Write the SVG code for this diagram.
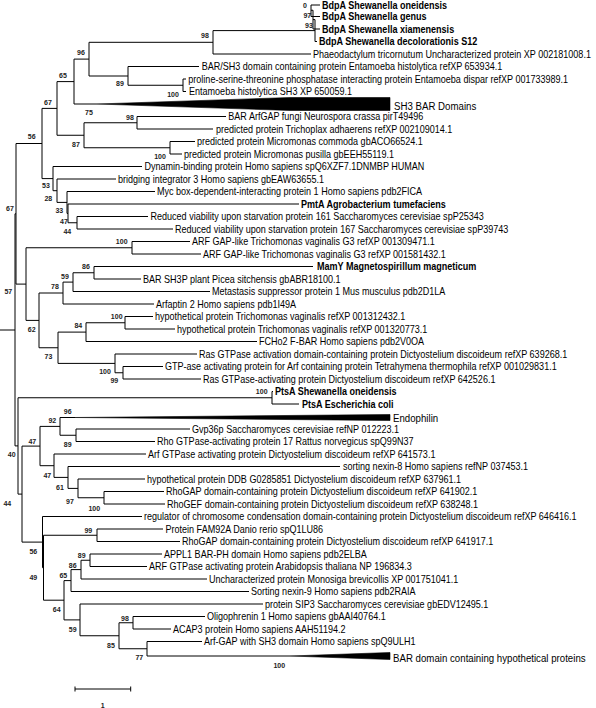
<svg xmlns="http://www.w3.org/2000/svg" width="596" height="708" viewBox="0 0 596 708">
<style>
.t{font-family:"Liberation Sans",Arial,sans-serif;font-size:10px;fill:#000}
.b{font-weight:bold}
.big{font-size:11px}
.bs{font-family:"Liberation Sans",Arial,sans-serif;font-size:7px;font-weight:bold;fill:#222;text-anchor:middle}
.br{fill:none;stroke:#000;stroke-width:1}
.tri{fill:#000;stroke:#000;stroke-width:0.6}
</style>
<rect width="596" height="708" fill="#fff"/>
<g id="connectors" class="br">
<path d="M0 330H15M15 213.8V445.9"/>
<path d="M15 213.8H16M16 143.5V284.1"/>
<path d="M16 143.5H42M42 108.4V178.6"/>
<path d="M42 108.4H57M57 81.6V135.25"/>
<path d="M57 81.6H74M74 59.1V104M74 104H97"/>
<path d="M74 59.1H89M89 42.3V76"/>
<path d="M89 42.3H213M213 30.6V54M213 54H311"/>
<path d="M213 30.6H315M315 19.6V41.5M315 41.5H317"/>
<path d="M313 19.6H315M313 10.25V29M313 29H320"/>
<path d="M311 10.25H313M311 5V16.5M311 5H320M311 16.5H320"/>
<path d="M89 76H128M128 66.5V85.25M128 66.5H199"/>
<path d="M128 85.25H183M183 79V91.5M183 79H186M183 91.5H186"/>
<path d="M57 135.25H84M84 122.75V147.75"/>
<path d="M84 122.75H137M137 116.5V129M137 116.5H226M137 129H213"/>
<path d="M84 147.75H170M170 141.5V154M170 141.5H195M170 154H182"/>
<path d="M42 178.6H53M53 166.5V190.7M53 166.5H142"/>
<path d="M53 190.7H57M57 179V202.4M57 179H116"/>
<path d="M57 202.4H67M67 191.5V213.4M67 191.5H155"/>
<path d="M67 213.4H68M68 204V222.75M68 204H299"/>
<path d="M68 222.75H77M77 216.5V229M77 216.5H148M77 229H173"/>
<path d="M16 284.1H26M26 247.75V320.4"/>
<path d="M26 247.75H132M132 241.5V254M132 241.5H190M132 254H201"/>
<path d="M26 320.4H39M39 293V347.75"/>
<path d="M39 293H63M63 282.1V304M63 304H154"/>
<path d="M63 282.1H73M73 272.75V291.5M73 291.5H210"/>
<path d="M73 272.75H94M94 266.5V279M94 266.5H313M94 279H141"/>
<path d="M39 347.75H58M58 332.1V363.4"/>
<path d="M58 332.1H86M86 322.75V341.5M86 341.5H257"/>
<path d="M86 322.75H125M125 316.5V329M125 316.5H153M125 329H175"/>
<path d="M58 363.4H115M115 354V372.75M115 354H197"/>
<path d="M115 372.75H123M123 366.5V379M123 366.5H163M123 379H201"/>
<path d="M15 445.9H18M18 397.75V494.1"/>
<path d="M18 397.75H272M272 391.5V404M272 391.5H273M272 404H299"/>
<path d="M18 494.1H22M22 446.1V542.1"/>
<path d="M22 446.1H40M40 426.4V465.7"/>
<path d="M40 426.4H60M60 417.5V435.25M60 417.5H75"/>
<path d="M60 435.25H76M76 429V441.5M76 429H190M76 441.5H155"/>
<path d="M40 465.7H54M54 454V477.4M54 454H146"/>
<path d="M54 477.4H68M68 466.5V488.4M68 466.5H340"/>
<path d="M68 488.4H78M78 479V497.75M78 479H145"/>
<path d="M78 497.75H104M104 491.5V504M104 491.5H164M104 504H165"/>
<path d="M22 542.1H42.5M42.5 516.5V567.7M42.5 516.5H142"/>
<path d="M42.5 567.7H43.5M43.5 535.25V600.2"/>
<path d="M43.5 535.25H97M97 529V541.5M97 529H163M97 541.5H180"/>
<path d="M43.5 600.2H64M64 580.6V619.9"/>
<path d="M64 580.6H71M71 569.6V591.5M71 591.5H249"/>
<path d="M71 569.6H81M81 560.25V579M81 579H207"/>
<path d="M81 560.25H90M90 554V566.5M90 554H162M90 566.5H147"/>
<path d="M64 619.9H80M80 604V635.75M80 604H263"/>
<path d="M80 635.75H119M119 622.75V648.75"/>
<path d="M119 622.75H133M133 616.5V629M133 616.5H205M133 629H171"/>
<path d="M119 648.75H147M147 641.5V656M147 641.5H202M147 656H290"/>
</g>
<g id="leaves" class="t">
<g id="leaf1"><text class="b" transform="matrix(0.905 0 0 1 322 8.6)">BdpA Shewanella oneidensis</text></g>
<g id="leaf2"><text class="b" transform="matrix(0.905 0 0 1 322 20)">BdpA Shewanella genus</text></g>
<g id="leaf3"><text class="b" transform="matrix(0.905 0 0 1 322 32.5)">BdpA Shewanella xiamenensis</text></g>
<g id="leaf4"><text class="b" transform="matrix(0.905 0 0 1 319 45)">BdpA Shewanella decolorationis S12</text></g>
<g id="leaf5"><text transform="matrix(0.905 0 0 1 313 57.5)">Phaeodactylum tricornutum Uncharacterized protein XP 002181008.1</text></g>
<g id="leaf6"><text transform="matrix(0.905 0 0 1 201.7 70)">BAR/SH3 domain containing protein Entamoeba histolytica refXP 653934.1</text></g>
<g id="leaf7"><text transform="matrix(0.905 0 0 1 188.3 82.5)">proline-serine-threonine phosphatase interacting protein Entamoeba dispar refXP 001733989.1</text></g>
<g id="leaf8"><text transform="matrix(0.905 0 0 1 189 95)">Entamoeba histolytica SH3 XP 650059.1</text></g>
<g id="leaf9"><polygon class="tri" points="97,104 290,97.5 390,97.5 390,110.5 290,110.5"/><text class="big" transform="matrix(0.88 0 0 1 394 110)">SH3 BAR Domains</text></g>
<g id="leaf10"><text transform="matrix(0.905 0 0 1 228.3 120)">BAR ArfGAP fungi Neurospora crassa pirT49496</text></g>
<g id="leaf11"><text transform="matrix(0.905 0 0 1 216 132.5)">predicted protein Trichoplax adhaerens refXP 002109014.1</text></g>
<g id="leaf12"><text transform="matrix(0.905 0 0 1 197 145)">predicted protein Micromonas commoda gbACO66524.1</text></g>
<g id="leaf13"><text transform="matrix(0.905 0 0 1 184 157.5)">predicted protein Micromonas pusilla gbEEH55119.1</text></g>
<g id="leaf14"><text transform="matrix(0.905 0 0 1 144.5 170)">Dynamin-binding protein Homo sapiens spQ6XZF7.1DNMBP HUMAN</text></g>
<g id="leaf15"><text transform="matrix(0.905 0 0 1 118 182.5)">bridging integrator 3 Homo sapiens gbEAW63655.1</text></g>
<g id="leaf16"><text transform="matrix(0.905 0 0 1 157 195)">Myc box-dependent-interacting protein 1 Homo sapiens pdb2FICA</text></g>
<g id="leaf17"><text class="b" transform="matrix(0.905 0 0 1 301 207.5)">PmtA Agrobacterium tumefaciens</text></g>
<g id="leaf18"><text transform="matrix(0.905 0 0 1 150.5 220)">Reduced viability upon starvation protein 161 Saccharomyces cerevisiae spP25343</text></g>
<g id="leaf19"><text transform="matrix(0.905 0 0 1 175 232.5)">Reduced viability upon starvation protein 167 Saccharomyces cerevisiae spP39743</text></g>
<g id="leaf20"><text transform="matrix(0.905 0 0 1 192 245)">ARF GAP-like Trichomonas vaginalis G3 refXP 001309471.1</text></g>
<g id="leaf21"><text transform="matrix(0.905 0 0 1 203 257.5)">ARF GAP-like Trichomonas vaginalis G3 refXP 001581432.1</text></g>
<g id="leaf22"><text class="b" transform="matrix(0.905 0 0 1 317 270)">MamY Magnetospirillum magneticum</text></g>
<g id="leaf23"><text transform="matrix(0.905 0 0 1 143 282.5)">BAR SH3P plant Picea sitchensis gbABR18100.1</text></g>
<g id="leaf24"><text transform="matrix(0.905 0 0 1 212 295)">Metastasis suppressor protein 1 Mus musculus pdb2D1LA</text></g>
<g id="leaf25"><text transform="matrix(0.905 0 0 1 156 307.5)">Arfaptin 2 Homo sapiens pdb1I49A</text></g>
<g id="leaf26"><text transform="matrix(0.905 0 0 1 155 320)">hypothetical protein Trichomonas vaginalis refXP 001312432.1</text></g>
<g id="leaf27"><text transform="matrix(0.905 0 0 1 177 332.5)">hypothetical protein Trichomonas vaginalis refXP 001320773.1</text></g>
<g id="leaf28"><text transform="matrix(0.905 0 0 1 259 345)">FCHo2 F-BAR Homo sapiens pdb2V0OA</text></g>
<g id="leaf29"><text transform="matrix(0.905 0 0 1 199 357.5)">Ras GTPase activation domain-containing protein Dictyostelium discoideum refXP 639268.1</text></g>
<g id="leaf30"><text transform="matrix(0.905 0 0 1 165 370)">GTP-ase activating protein for Arf containing protein Tetrahymena thermophila refXP 001029831.1</text></g>
<g id="leaf31"><text transform="matrix(0.905 0 0 1 203 382.5)">Ras GTPase-activating protein Dictyostelium discoideum refXP 642526.1</text></g>
<g id="leaf32"><text class="b" transform="matrix(0.905 0 0 1 275 395)">PtsA Shewanella oneidensis</text></g>
<g id="leaf33"><text class="b" transform="matrix(0.905 0 0 1 302 407.5)">PtsA Escherichia coli</text></g>
<g id="leaf34"><polygon class="tri" points="75,417.5 390,414.5 390,420.5"/><text class="big" transform="matrix(0.88 0 0 1 393 421.5)">Endophilin</text></g>
<g id="leaf35"><text transform="matrix(0.905 0 0 1 192 432.5)">Gvp36p Saccharomyces cerevisiae refNP 012223.1</text></g>
<g id="leaf36"><text transform="matrix(0.905 0 0 1 157 445)">Rho GTPase-activating protein 17 Rattus norvegicus spQ99N37</text></g>
<g id="leaf37"><text transform="matrix(0.905 0 0 1 148 457.5)">Arf GTPase activating protein Dictyostelium discoideum refXP 641573.1</text></g>
<g id="leaf38"><text transform="matrix(0.905 0 0 1 343 470)">sorting nexin-8 Homo sapiens refNP 037453.1</text></g>
<g id="leaf39"><text transform="matrix(0.905 0 0 1 147 482.5)">hypothetical protein DDB G0285851 Dictyostelium discoideum refXP 637961.1</text></g>
<g id="leaf40"><text transform="matrix(0.905 0 0 1 166 495)">RhoGAP domain-containing protein Dictyostelium discoideum refXP 641902.1</text></g>
<g id="leaf41"><text transform="matrix(0.905 0 0 1 167 507.5)">RhoGEF domain-containing protein Dictyostelium discoideum refXP 638248.1</text></g>
<g id="leaf42"><text transform="matrix(0.905 0 0 1 144 520)">regulator of chromosome condensation domain-containing protein Dictyostelium discoideum refXP 646416.1</text></g>
<g id="leaf43"><text transform="matrix(0.905 0 0 1 165.5 532.5)">Protein FAM92A Danio rerio spQ1LU86</text></g>
<g id="leaf44"><text transform="matrix(0.905 0 0 1 182 545)">RhoGAP domain-containing protein Dictyostelium discoideum refXP 641917.1</text></g>
<g id="leaf45"><text transform="matrix(0.905 0 0 1 164 557.5)">APPL1 BAR-PH domain Homo sapiens pdb2ELBA</text></g>
<g id="leaf46"><text transform="matrix(0.905 0 0 1 149 570)">ARF GTPase activating protein Arabidopsis thaliana NP 196834.3</text></g>
<g id="leaf47"><text transform="matrix(0.905 0 0 1 209 582.5)">Uncharacterized protein Monosiga brevicollis XP 001751041.1</text></g>
<g id="leaf48"><text transform="matrix(0.905 0 0 1 251 595)">Sorting nexin-9 Homo sapiens pdb2RAIA</text></g>
<g id="leaf49"><text transform="matrix(0.905 0 0 1 265 607.5)">protein SIP3 Saccharomyces cerevisiae gbEDV12495.1</text></g>
<g id="leaf50"><text transform="matrix(0.905 0 0 1 207 620)">Oligophrenin 1 Homo sapiens gbAAI40764.1</text></g>
<g id="leaf51"><text transform="matrix(0.905 0 0 1 173 632.5)">ACAP3 protein Homo sapiens AAH51194.2</text></g>
<g id="leaf52"><text transform="matrix(0.905 0 0 1 204 645)">Arf-GAP with SH3 domain Homo sapiens spQ9ULH1</text></g>
<g id="leaf53"><polygon class="tri" points="290,656 390,652.5 390,659.5"/><text class="big" transform="matrix(0.88 0 0 1 393 662)">BAR domain containing hypothetical proteins</text></g>
</g>
<g id="bootstrap" class="bs">
<text x="305" y="7.6">0</text>
<text x="307.3" y="17.8">97</text>
<text x="309" y="27.5">93</text>
<text x="205" y="37.5">98</text>
<text x="81" y="54.5">96</text>
<text x="63" y="77.5">65</text>
<text x="120" y="85.5">89</text>
<text x="173" y="96.5">100</text>
<text x="48" y="105.2">67</text>
<text x="89" y="115.2">75</text>
<text x="130" y="120.2">98</text>
<text x="76" y="146.8">87</text>
<text x="160" y="159.2">100</text>
<text x="31.7" y="139.2">56</text>
<text x="46" y="188.2">53</text>
<text x="48.3" y="200.8">28</text>
<text x="10" y="210.8">67</text>
<text x="59.3" y="212.5">33</text>
<text x="64" y="224.2">47</text>
<text x="67.3" y="234.2">44</text>
<text x="121.7" y="244.2">100</text>
<text x="86" y="269.2">86</text>
<text x="65" y="279.2">59</text>
<text x="55" y="289.2">78</text>
<text x="8.3" y="294.2">57</text>
<text x="116.7" y="319.2">100</text>
<text x="78.3" y="328.2">84</text>
<text x="31.7" y="331.5">62</text>
<text x="48.5" y="359">73</text>
<text x="105" y="373.5">100</text>
<text x="114.3" y="382.5">99</text>
<text x="261.7" y="394.2">100</text>
<text x="67.7" y="414.2">96</text>
<text x="52.3" y="423.2">92</text>
<text x="67.7" y="446.8">89</text>
<text x="32.3" y="443.5">47</text>
<text x="11.7" y="456.8">40</text>
<text x="47.3" y="478.2">47</text>
<text x="60" y="489.8">61</text>
<text x="7.3" y="505.8">44</text>
<text x="70" y="503.5">97</text>
<text x="94.3" y="510.8">100</text>
<text x="88.3" y="533.2">99</text>
<text x="33.3" y="553.5">56</text>
<text x="81.7" y="557.5">89</text>
<text x="72.7" y="567.5">86</text>
<text x="63.3" y="578.2">65</text>
<text x="33.3" y="579.8">49</text>
<text x="56.7" y="611.5">64</text>
<text x="72.7" y="631.5">59</text>
<text x="125" y="620.8">98</text>
<text x="111" y="647.5">85</text>
<text x="139.3" y="659.8">77</text>
<text x="279.3" y="667.5">100</text>
</g>
<g id="scale-bar">
<path class="br" d="M75 689H130.7M75 686.5V691.5M130.7 686.5V691.5"/>
<text class="bs" x="102.7" y="708">1</text>
</g>
</svg>
